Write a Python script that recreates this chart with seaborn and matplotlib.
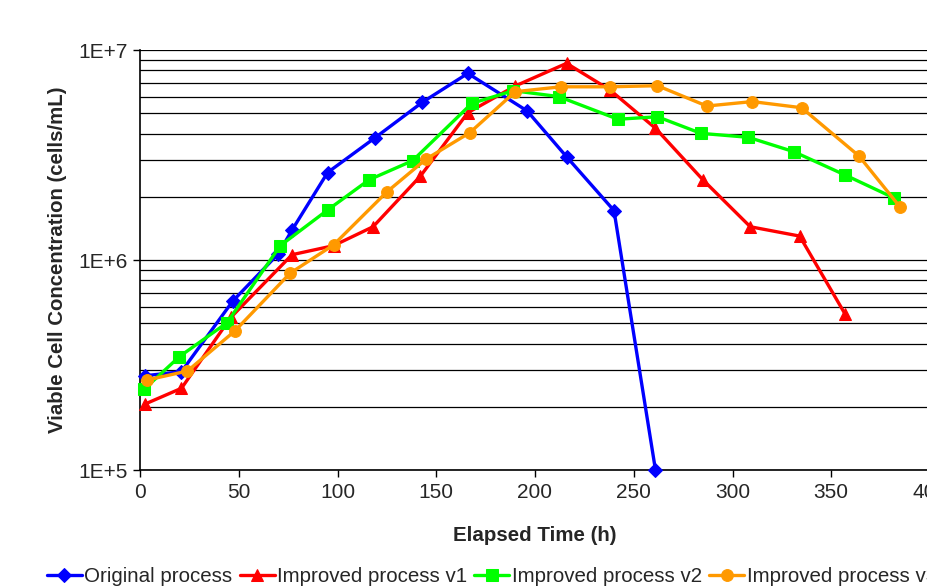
import numpy as np
import pandas as pd
import seaborn as sns
import matplotlib.pyplot as plt
from matplotlib.ticker import FixedLocator, NullFormatter, LogLocator

# -------------------------------
# data
# -------------------------------
orig_t = [2.5, 21, 47, 70, 77, 95, 119, 143, 166, 196, 216, 240, 261]
orig_v = [2.81e5, 2.94e5, 6.38e5, 1.07e6, 1.39e6, 2.61e6, 3.82e6, 5.64e6, 7.74e6,
          5.13e6, 3.10e6, 1.72e6, 1.0e5]

v1_t = [2.5, 21, 46, 77, 98, 118, 142, 166, 190, 216, 238, 261, 285, 309, 334, 357]
v1_v = [2.06e5, 2.45e5, 5.33e5, 1.06e6, 1.17e6, 1.44e6, 2.51e6, 5.03e6, 6.74e6,
        8.64e6, 6.45e6, 4.24e6, 2.41e6, 1.44e6, 1.30e6, 5.53e5]

v2_t = [2, 20, 44, 71, 95, 116, 138, 168, 189, 212, 242, 262, 284, 308, 331, 357, 382]
v2_v = [2.42e5, 3.47e5, 5.02e5, 1.17e6, 1.73e6, 2.41e6, 2.97e6, 5.57e6, 6.40e6,
        6.00e6, 4.68e6, 4.81e6, 4.01e6, 3.84e6, 3.28e6, 2.54e6, 1.97e6]

v3_t = [3.4, 24, 48, 76, 98, 125, 145, 167, 190, 213, 238, 262, 287, 310, 335, 364, 385]
v3_v = [2.68e5, 2.96e5, 4.59e5, 8.65e5, 1.18e6, 2.11e6, 3.03e6, 4.04e6, 6.33e6,
        6.68e6, 6.68e6, 6.76e6, 5.41e6, 5.68e6, 5.31e6, 3.13e6, 1.78e6]

series_names = ["Original process", "Improved process v1",
                "Improved process v2", "Improved process v3"]

# -------------------------------
# style
# -------------------------------
sns.set_theme(style="white")
plt.rcParams["font.family"] = ["Liberation Sans", "DejaVu Sans"]

fig = plt.figure(figsize=(9.28, 5.86), dpi=100)
ax = fig.add_axes([140 / 928, 1 - 470 / 586, 790 / 928, 420 / 586])

styles = [
    (orig_t, orig_v, "#0000FF", "D", 7),
    (v1_t, v1_v, "#FF0000", "^", 9),
    (v2_t, v2_v, "#00FF00", "s", 8),
    (v3_t, v3_v, "#FF9900", "o", 8.5),
]

for name, (t, v, col, mk, ms) in zip(series_names, styles):
    sns.lineplot(x=t, y=v, ax=ax, color=col, marker=mk, markersize=ms,
                 markeredgecolor=col, linewidth=2.4, sort=False,
                 label=name, clip_on=False, zorder=3)

ax.set_yscale("log")
ax.set_xlim(0, 400)
ax.set_ylim(1e5, 1e7)

# horizontal grid on every decade subdivision
ax.yaxis.set_major_locator(FixedLocator([1e5, 1e6, 1e7]))
ax.yaxis.set_minor_locator(LogLocator(base=10, subs=np.arange(2, 10)))
ax.yaxis.set_minor_formatter(NullFormatter())
ax.set_yticklabels(["1E+5", "1E+6", "1E+7"])
ax.set_xticks(np.arange(0, 401, 50))

ax.grid(True, axis="y", which="both", color="black", linewidth=0.9)
ax.grid(False, axis="x")

for side in ["top", "right"]:
    ax.spines[side].set_visible(False)
for side in ["left", "bottom"]:
    ax.spines[side].set_color("black")
    ax.spines[side].set_linewidth(1.2)

ax.tick_params(axis="both", which="major", direction="out", length=5, width=1,
               color="black", labelsize=15, left=True, bottom=True, pad=4)
ax.tick_params(axis="y", which="minor", length=0)

ax.set_xlabel("Elapsed Time (h)", fontsize=14.8, fontweight="bold")
ax.set_ylabel("Viable Cell Concentration (cells/mL)", fontsize=14.7, fontweight="bold")
ax.xaxis.set_label_coords(0.5, -0.133)
ax.yaxis.set_label_coords(-73 / 790, 0.5)

# legend strip along the bottom
handles, labels = ax.get_legend_handles_labels()
ax.get_legend().remove()
fig.legend(handles, labels, loc="center left", ncol=4, frameon=False,
           bbox_to_anchor=(47 / 928, 1 - 577 / 586), fontsize=14.8,
           handlelength=1.7, handletextpad=0.12, columnspacing=0.35,
           borderpad=0, borderaxespad=0)

# chart title, almost entirely above the visible area
fig.text(290 / 928, 1 - 3 / 586, "Cell growth in serum free medium",
         ha="right", va="top", fontsize=20, fontweight="bold",
         transform=fig.transFigure)
fig.texts[-1].set_va("baseline")
fig.texts[-1].set_y(1 - 0.5 / 586)

fig.savefig("out.png", dpi=100)
